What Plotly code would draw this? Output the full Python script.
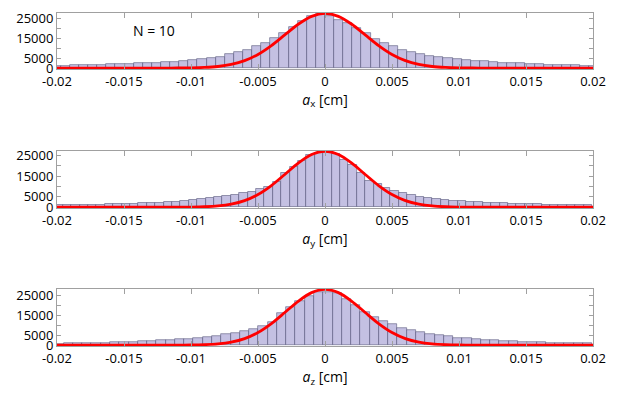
import plotly.graph_objects as go
from plotly.subplots import make_subplots

# histogram bins (cm): first edge and bin width for each panel
bin_start = [-0.0204, -0.0202, -0.0202]
bin_width = [0.00068, 0.000627, 0.000692]

# counts per bin
counts_ax = [1100, 1200, 1400, 1500, 1600, 1700, 2000, 2200, 2300, 2500,
             2700, 2800, 3000, 3300, 3700, 4300, 4700, 5300, 5700, 7000,
             8000, 9300, 11000, 13000, 15100, 17600, 21000, 23800, 26600, 27300,
             26600, 24600, 23000, 20500, 17600, 15000, 13000, 11300, 9300, 8000,
             7100, 6000, 5500, 5000, 4600, 4200, 3800, 3500, 3100, 2800,
             2700, 2500, 2200, 2100, 1800, 1700, 1600, 1500, 1300, 1200]

counts_ay = [1000, 1050, 1100, 1150, 1200, 1300, 1400, 1500, 1600, 1700,
             1900, 2000, 2200, 2400, 2700, 3000, 3400, 3800, 4300, 4800,
             5300, 6000, 6800, 7600, 8600, 10000, 12300, 16300, 19400, 22300,
             25000, 26100, 26600, 25800, 22900, 20200, 16300, 12800, 11000, 9300,
             8000, 6900, 6000, 5200, 4600, 4100, 3600, 3200, 2900, 2600,
             2400, 2200, 2000, 1850, 1700, 1600, 1500, 1400, 1300, 1250,
             1200, 1150, 1100, 1050]

counts_az = [750, 850, 950, 1000, 1100, 1300, 1400, 1600, 1800, 2000,
             2200, 2400, 2600, 3000, 3300, 3800, 4200, 4700, 5500, 6300,
             7200, 8300, 9700, 11700, 16300, 19300, 22200, 25000, 27200, 27200,
             26300, 23300, 20500, 16800, 14300, 12200, 10500, 8800, 7700, 6700,
             5800, 5200, 4700, 3800, 3500, 3000, 2700, 2500, 2200, 2000,
             1700, 1600, 1500, 1300, 1100, 1000, 950, 850]

# gaussian fit curves (red), sampled every 0.001 cm
fit_x = [-0.020, -0.019, -0.018, -0.017, -0.016, -0.015, -0.014, -0.013, -0.012, -0.011,
         -0.010, -0.009, -0.008, -0.007, -0.006, -0.005, -0.004, -0.003, -0.002, -0.001,
         0.000, 0.001, 0.002, 0.003, 0.004, 0.005, 0.006, 0.007, 0.008, 0.009,
         0.010, 0.011, 0.012, 0.013, 0.014, 0.015, 0.016, 0.017, 0.018, 0.019, 0.020]
fit_ax = [0, 0, 0, 0, 0, 0, 0, 0, 10, 30,
          110, 310, 800, 1830, 3760, 6930, 11430, 16870, 22270, 26300,
          27800, 26300, 22270, 16870, 11430, 6930, 3760, 1830, 800, 310,
          110, 30, 10, 0, 0, 0, 0, 0, 0, 0, 0]
fit_ay = [0, 0, 0, 0, 0, 0, 0, 0, 0, 20,
          70, 220, 600, 1460, 3160, 6090, 10400, 15750, 21200, 25350,
          26900, 25350, 21200, 15750, 10400, 6090, 3160, 1460, 600, 220,
          70, 20, 0, 0, 0, 0, 0, 0, 0, 0, 0]
fit_az = [0, 0, 0, 0, 0, 0, 0, 0, 0, 20,
          70, 230, 630, 1540, 3330, 6400, 10950, 16570, 22300, 26680,
          28300, 26680, 22300, 16570, 10950, 6400, 3330, 1540, 630, 230,
          70, 20, 0, 0, 0, 0, 0, 0, 0, 0, 0]

x_ticks = [-0.02, -0.015, -0.01, -0.005, 0, 0.005, 0.01, 0.015, 0.02]
x_ticktext = ["-0.02", "-0.015", "-0.01", "-0.005", "0", "0.005", "0.01", "0.015", "0.02"]
y_ticks = [0, 5000, 10000, 15000, 20000, 25000]
y_ticktext = ["0", "5000", "", "15000", "", "25000"]
comp = ["x", "y", "z"]

all_counts = [counts_ax, counts_ay, counts_az]
all_fits = [fit_ax, fit_ay, fit_az]
y_tops = [28000, 27100, 28500]
domains = [[0.832, 1.0], [0.414, 0.586], [0.0, 0.171]]

fig = make_subplots(rows=3, cols=1)

for i in range(3):
    c = all_counts[i]
    centers = [bin_start[i] + (k + 0.5) * bin_width[i] for k in range(len(c))]
    fig.add_trace(go.Bar(x=centers, y=c, width=bin_width[i],
                         marker=dict(color="#c4c0e2",
                                     line=dict(color="rgba(70,70,110,0.75)", width=0.7)),
                         showlegend=False), row=i + 1, col=1)
    fig.add_trace(go.Scatter(x=fit_x, y=all_fits[i], mode="lines",
                             line=dict(color="#ff0000", width=2.8, shape="spline", smoothing=0.8),
                             showlegend=False), row=i + 1, col=1)

    fig.update_xaxes(range=[-0.02, 0.02], tickvals=x_ticks, ticktext=x_ticktext,
                     showgrid=False, zeroline=False, showline=True, linecolor="#a0a0a0",
                     linewidth=1, mirror="ticks", ticks="inside", ticklen=5, tickcolor="#a0a0a0",
                     tickfont=dict(size=13, color="black"), automargin=False,
                     title=dict(text="<i>a</i><sub>%s</sub> [cm]" % comp[i],
                                font=dict(size=14, color="black"), standoff=2),
                     row=i + 1, col=1)
    fig.update_yaxes(range=[-450, y_tops[i]], tickvals=y_ticks, ticktext=y_ticktext,
                     domain=domains[i], showgrid=False, zeroline=False, showline=True,
                     linecolor="#a0a0a0", linewidth=1, mirror="ticks", ticks="inside",
                     ticklen=4, tickcolor="#a0a0a0", tickfont=dict(size=13, color="black"),
                     automargin=False, row=i + 1, col=1)

fig.add_annotation(x=0.181, y=0.947, xref="paper", yref="paper", text="N = 10",
                   xanchor="center", yanchor="middle",
                   showarrow=False, font=dict(size=14, color="black"))

# the page adds an 8px body margin, so the plot margins are shifted to compensate
fig.update_layout(width=627, height=395, bargap=0,
                  margin=dict(l=49, r=42, t=5, b=57),
                  plot_bgcolor="white", paper_bgcolor="white",
                  font=dict(family="Open Sans", color="black"))

fig.write_html("out.html")
